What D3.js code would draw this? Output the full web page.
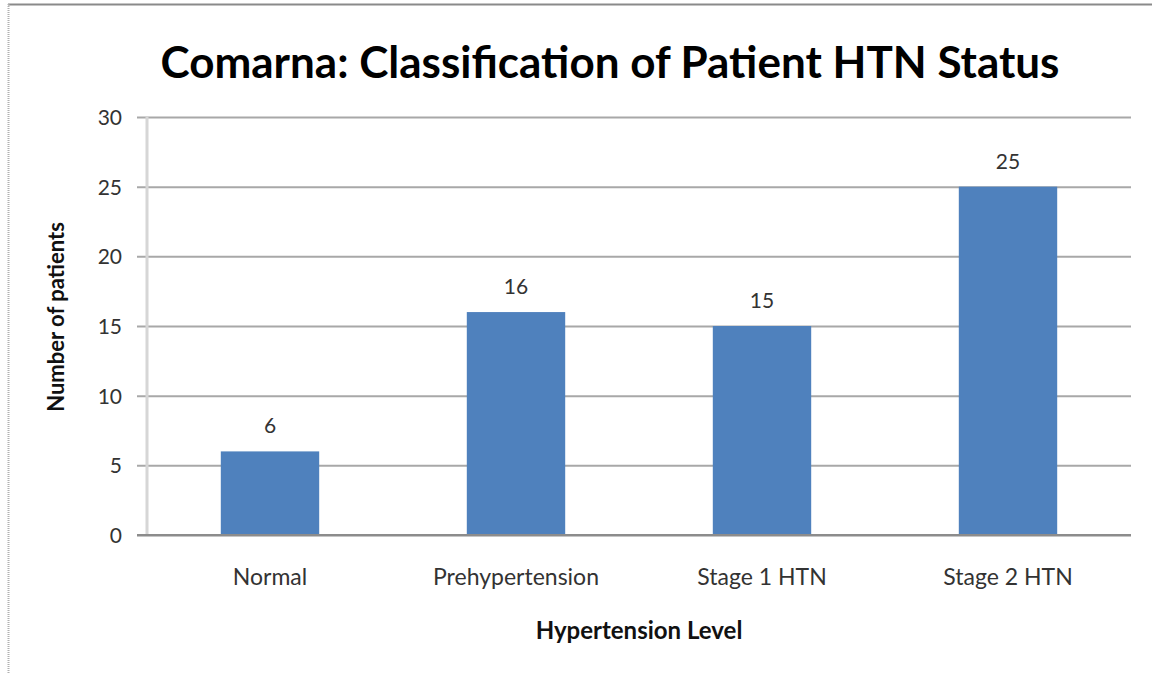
<!doctype html>
<html lang="en">
    <head>
        <meta charset="utf-8">
        <title>Comarna HTN Status</title>
        <style>
            body { margin: 0; background: #fff; }
            svg { display: block; }
            svg text { font-family: Lato, "Open Sans", sans-serif; }
        </style>
    </head>
    <body>
        <script src="https://d3js.org/d3.v7.min.js"></script>
        <script>
            var categories = ["Normal", "Prehypertension", "Stage 1 HTN", "Stage 2 HTN"];
            var patients = [6, 16, 15, 25];
            var yTicks = [0, 5, 10, 15, 20, 25, 30];

            var W = 1152, H = 674;
            var margin = {top: 117, right: 21, bottom: 139, left: 147},
                width = W - margin.left - margin.right,
                height = H - margin.top - margin.bottom;

            var svg = d3.select("body").append("svg")
                        .attr("width", W)
                        .attr("height", H);

            // outer frame: solid top, dotted left
            svg.append("line").attr("x1", 8).attr("x2", W).attr("y1", 4.5).attr("y2", 4.5)
               .attr("stroke", "#8a8a8a").attr("stroke-width", 2);
            svg.append("line").attr("x1", 8.5).attr("x2", 8.5).attr("y1", 4).attr("y2", H)
               .attr("stroke", "#b0b0b0").attr("stroke-width", 2).attr("stroke-dasharray", "1,1");

            var g = svg.append("g")
                       .attr("transform", "translate(" + margin.left + "," + margin.top + ")");

            var x = d3.scaleBand()
                      .domain(categories)
                      .range([0, width])
                      .paddingInner(0.6)
                      .paddingOuter(0.3);
            var y = d3.scaleLinear()
                      .domain([0, 30])
                      .range([height, 0]);

            // gridlines + y axis
            var yAxis = g.append("g")
                .call(d3.axisLeft(y).tickValues(yTicks).tickSize(0));
            yAxis.select(".domain").remove();
            yAxis.selectAll(".tick line")
                 .attr("x1", -10).attr("x2", width)
                 .attr("stroke", function(d) { return d === 0 ? "#8c8c8c" : "#a8a8a8"; })
                 .attr("stroke-width", 2);
            yAxis.selectAll(".tick text")
                 .attr("x", -25)
                 .attr("dy", "0.36em")
                 .attr("fill", "#333")
                 .style("font-size", "21px");

            g.append("line")
             .attr("x1", 0).attr("x2", 0).attr("y1", 0).attr("y2", height)
             .attr("stroke", "#d6d6d6").attr("stroke-width", 3);

            g.selectAll(".bar")
             .data(patients)
             .enter().append("rect")
             .attr("class", "bar")
             .attr("x", function(d, i) { return x(categories[i]); })
             .attr("y", function(d) { return y(d); })
             .attr("width", x.bandwidth())
             .attr("height", function(d) { return height - y(d); })
             .attr("fill", "#4f81bd");

            g.selectAll(".val")
             .data(patients)
             .enter().append("text")
             .attr("class", "val")
             .attr("x", function(d, i) { return x(categories[i]) + x.bandwidth() / 2; })
             .attr("y", function(d) { return y(d) - 18; })
             .attr("text-anchor", "middle")
             .attr("fill", "#333")
             .style("font-size", "21px")
             .text(function(d) { return d; });

            // baseline stays above bars
            g.append("line")
             .attr("x1", -10).attr("x2", width).attr("y1", height).attr("y2", height)
             .attr("stroke", "#8c8c8c").attr("stroke-width", 2);

            var xAxis = g.append("g")
                .attr("transform", "translate(0," + height + ")")
                .call(d3.axisBottom(x).tickSize(0));
            xAxis.select(".domain").remove();
            xAxis.selectAll("text")
                 .attr("y", 50)
                 .attr("dy", 0)
                 .attr("fill", "#333")
                 .style("font-size", "23px");

            svg.append("text")
               .attr("x", 610).attr("y", 78)
               .attr("text-anchor", "middle")
               .style("font-size", "44px").style("font-weight", "bold")
               .attr("fill", "#000")
               .text("Comarna: Classification of Patient HTN Status");

            svg.append("text")
               .attr("x", 639).attr("y", 639)
               .attr("text-anchor", "middle")
               .style("font-size", "24px").style("font-weight", "bold")
               .attr("fill", "#111")
               .text("Hypertension Level");

            svg.append("text")
               .attr("transform", "translate(64,317) rotate(-90)")
               .attr("text-anchor", "middle")
               .style("font-size", "22px").style("font-weight", "bold")
               .attr("fill", "#111")
               .text("Number of patients");
        </script>
    </body>
</html>
